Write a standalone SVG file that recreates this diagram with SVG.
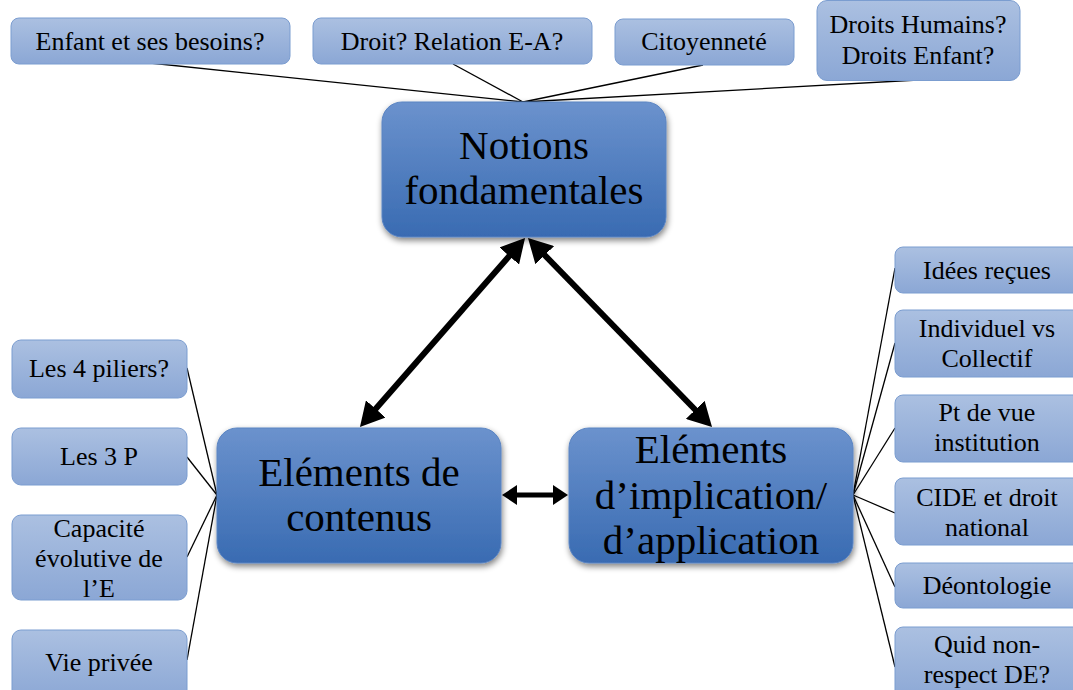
<svg xmlns="http://www.w3.org/2000/svg" width="1073" height="690" viewBox="0 0 1073 690">
<defs>
<linearGradient id="gs" x1="0" y1="0" x2="0" y2="1"><stop offset="0" stop-color="#abc0e1"/><stop offset="1" stop-color="#8ba7d5"/></linearGradient>
<linearGradient id="gb" x1="0" y1="0" x2="0" y2="1"><stop offset="0" stop-color="#6b92cd"/><stop offset="1" stop-color="#396bb2"/></linearGradient>
<filter id="sh" x="-10%" y="-10%" width="125%" height="130%"><feGaussianBlur in="SourceAlpha" stdDeviation="3"/><feOffset dx="1" dy="3"/><feComponentTransfer><feFuncA type="linear" slope="0.5"/></feComponentTransfer><feMerge><feMergeNode/><feMergeNode in="SourceGraphic"/></feMerge></filter>
<marker id="ah" viewBox="0 0 10 10" refX="3" refY="5" markerWidth="24" markerHeight="26" preserveAspectRatio="none" orient="auto-start-reverse" markerUnits="userSpaceOnUse"><path d="M0,0 L10,5 L0,10 z" fill="#000"/></marker>
<marker id="ahs" viewBox="0 0 10 10" refX="3" refY="5" markerWidth="15" markerHeight="20" preserveAspectRatio="none" orient="auto-start-reverse" markerUnits="userSpaceOnUse"><path d="M0,0 L10,5 L0,10 z" fill="#000"/></marker>
</defs>
<style>
.s{fill:url(#gs);stroke:#7b9dd0;stroke-width:1}
.b{fill:url(#gb);stroke:#5a84c2;stroke-width:1;filter:url(#sh)}
text{font-family:"Liberation Serif","DejaVu Serif",serif;fill:#000;text-anchor:middle}
.t{font-size:26px}
.T{font-size:41px}
.l{stroke:#000;stroke-width:1.3;fill:none}
.a{stroke:#000;stroke-width:6;fill:none;marker-start:url(#ah);marker-end:url(#ah)}
.as{stroke:#000;stroke-width:5;fill:none;marker-start:url(#ahs);marker-end:url(#ahs)}
</style>
<rect width="1073" height="690" fill="#fff"/>
<g id="connectors">
<line class="l" x1="150" y1="63" x2="523" y2="102"/>
<line class="l" x1="453" y1="64" x2="523" y2="102"/>
<line class="l" x1="703" y1="65" x2="523" y2="102"/>
<line class="l" x1="918" y1="80" x2="523" y2="102"/>
<line class="l" x1="187" y1="368" x2="217" y2="495"/>
<line class="l" x1="187" y1="457" x2="217" y2="495"/>
<line class="l" x1="187" y1="557" x2="217" y2="495"/>
<line class="l" x1="187" y1="660" x2="217" y2="495"/>
<line class="l" x1="895" y1="268" x2="853" y2="495"/>
<line class="l" x1="895" y1="343" x2="853" y2="495"/>
<line class="l" x1="895" y1="428" x2="853" y2="495"/>
<line class="l" x1="895" y1="513" x2="853" y2="495"/>
<line class="l" x1="895" y1="587" x2="853" y2="495"/>
<line class="l" x1="895" y1="667" x2="853" y2="495"/>
<line class="a" x1="514" y1="250.6" x2="371" y2="414.3"/>
<line class="a" x1="539.7" y1="250" x2="700.3" y2="415"/>
<line class="as" x1="512.5" y1="495" x2="557.5" y2="495"/>
</g>
<g id="n-enfant"><rect class="s" x="11" y="18" width="279" height="46" rx="8"/><text class="t" x="150" y="50">Enfant et ses besoins?</text></g>
<g id="n-droit"><rect class="s" x="313" y="18" width="279" height="46" rx="8"/><text class="t" x="452" y="50">Droit? Relation E-A?</text></g>
<g id="n-citoyen"><rect class="s" x="615" y="19" width="179" height="46" rx="8"/><text class="t" x="704" y="50">Citoyenneté</text></g>
<g id="n-dh"><rect class="s" x="817" y="0.5" width="203" height="80" rx="10"/><text class="t" x="918" y="33">Droits Humains?</text><text class="t" x="918" y="64">Droits Enfant?</text></g>
<g id="n-notions"><rect class="b" x="382" y="102" width="284" height="135" rx="20"/><text class="T" x="524" y="159">Notions</text><text class="T" x="524" y="204">fondamentales</text></g>
<g id="n-contenus"><rect class="b" x="217" y="428" width="284" height="135" rx="20"/><text class="T" x="359" y="486">Eléments de</text><text class="T" x="359" y="531">contenus</text></g>
<g id="n-implication"><rect class="b" x="569" y="428" width="284" height="135" rx="20"/><text class="T" x="711" y="463">Eléments</text><text class="T" x="711" y="509">d’implication/</text><text class="T" x="711" y="554">d’application</text></g>
<g id="n-piliers"><rect class="s" x="12" y="340" width="175" height="58" rx="9"/><text class="t" x="99" y="377">Les 4 piliers?</text></g>
<g id="n-3p"><rect class="s" x="12" y="428" width="175" height="57" rx="9"/><text class="t" x="99" y="465">Les 3 P</text></g>
<g id="n-capacite"><rect class="s" x="12" y="515" width="175" height="85" rx="9"/><text class="t" x="99" y="537">Capacité</text><text class="t" x="99" y="567">évolutive de</text><text class="t" x="99" y="597">l’E</text></g>
<g id="n-vie"><rect class="s" x="12" y="630" width="175" height="70" rx="9"/><text class="t" x="99" y="671">Vie privée</text></g>
<g id="n-idees"><rect class="s" x="895" y="247" width="190" height="46" rx="8"/><text class="t" x="987" y="279">Idées reçues</text></g>
<g id="n-indiv"><rect class="s" x="895" y="310" width="190" height="67" rx="8"/><text class="t" x="987" y="337">Individuel vs</text><text class="t" x="987" y="367">Collectif</text></g>
<g id="n-pt"><rect class="s" x="895" y="395" width="190" height="67" rx="8"/><text class="t" x="987" y="421">Pt de vue</text><text class="t" x="987" y="451">institution</text></g>
<g id="n-cide"><rect class="s" x="895" y="478" width="190" height="67" rx="8"/><text class="t" x="987" y="506">CIDE et droit</text><text class="t" x="987" y="536">national</text></g>
<g id="n-deonto"><rect class="s" x="895" y="563" width="190" height="45" rx="8"/><text class="t" x="987" y="594">Déontologie</text></g>
<g id="n-quid"><rect class="s" x="895" y="627" width="190" height="75" rx="8"/><text class="t" x="987" y="653">Quid non-</text><text class="t" x="987" y="683">respect DE?</text></g>
</svg>
